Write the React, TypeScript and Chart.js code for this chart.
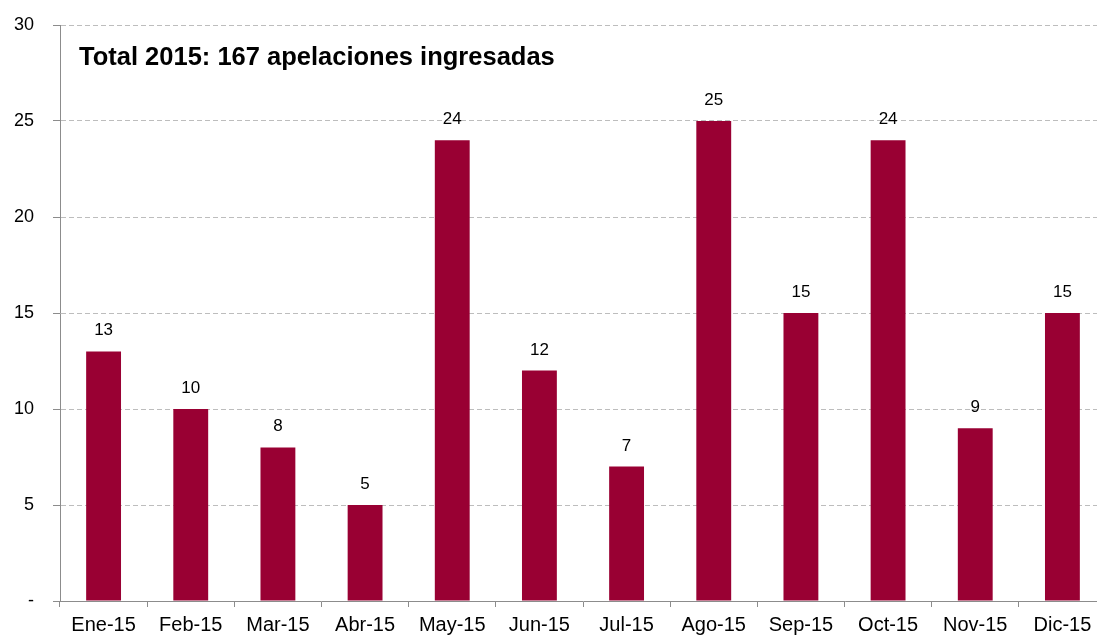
import React, { useEffect, useRef } from "react";
import { Chart, registerables } from "chart.js";

Chart.register(...registerables);

const categories = ["Ene-15", "Feb-15", "Mar-15", "Abr-15", "May-15", "Jun-15", "Jul-15", "Ago-15", "Sep-15", "Oct-15", "Nov-15", "Dic-15"];
const apelaciones = [13, 10, 8, 5, 24, 12, 7, 25, 15, 24, 9, 15];
const yTicks = [0, 5, 10, 15, 20, 25, 30];
const titleText = "Total 2015: 167 apelaciones ingresadas";

const FONT = "'Liberation Sans', Arial, sans-serif";

const overlayPlugin = {
  id: "overlay",
  afterDatasetsDraw(chart: any) {
    const ctx = chart.ctx;
    const meta = chart.getDatasetMeta(0);
    ctx.save();
    ctx.fillStyle = "#000";
    ctx.font = `17px ${FONT}`;
    ctx.textAlign = "center";
    ctx.textBaseline = "alphabetic";
    meta.data.forEach((bar: any, i: number) => {
      ctx.fillText(String(apelaciones[i]), bar.x, bar.y - 16);
    });
    ctx.font = `bold 25.5px ${FONT}`;
    ctx.textAlign = "left";
    ctx.fillText(titleText, 71, 57);
    ctx.restore();
  },
};

export default function App() {
  const ref = useRef<HTMLCanvasElement | null>(null);
  useEffect(() => {
    if (!ref.current) return;
    const chart = new Chart(ref.current, {
      type: "bar",
      data: {
        labels: categories,
        datasets: [
          {
            data: apelaciones,
            backgroundColor: "#990033",
            borderWidth: 0,
            categoryPercentage: 1,
            barPercentage: 0.4,
          },
        ],
      },
      options: {
        responsive: false,
        animation: false,
        layout: { padding: { top: 17, right: 12, left: 0, bottom: 0 } },
        plugins: { legend: { display: false }, tooltip: { enabled: false }, title: { display: false } },
        scales: {
          x: {
            offset: true,
            grid: {
              offset: true,
              drawOnChartArea: false,
              drawTicks: true,
              tickLength: 6,
              tickColor: "#8c8c8c",
              color: "#8c8c8c",
            },
            border: { display: true, color: "#8c8c8c", width: 1 },
            ticks: {
              color: "#000",
              font: { family: FONT, size: 20 },
              padding: 6,
              maxRotation: 0,
              autoSkip: false,
            },
            afterFit(scale: any) {
              scale.height = 35;
            },
          },
          y: {
            min: 0,
            max: 30,
            afterBuildTicks(scale: any) {
              scale.ticks = yTicks.map((v) => ({ value: v }));
            },
            grid: {
              color: (c: any) => (c.tick && c.tick.value === 0 ? "rgba(0,0,0,0)" : "#bdbdbd"),
              tickColor: "#8c8c8c",
              tickLength: 7,
              lineWidth: 1,
            },
            border: { display: true, color: "#8c8c8c", width: 1, dash: [5, 3] },
            ticks: {
              color: "#000",
              font: { family: FONT, size: 18 },
              padding: 19,
              callback: (v: any) => (Number(v) === 0 ? "-" : String(v)),
            },
            afterFit(scale: any) {
              scale.width = 52;
              scale.paddingTop = 0;
              scale.paddingBottom = 0;
            },
          },
        },
      },
      plugins: [overlayPlugin],
    });
    return () => chart.destroy();
  }, []);
  return (
    <div style={{ position: "fixed", left: 8, top: 8, width: 1089, height: 628, overflow: "hidden" }}>
      <canvas ref={ref} width={1110} height={628} style={{ display: "block" }} />
    </div>
  );
}
